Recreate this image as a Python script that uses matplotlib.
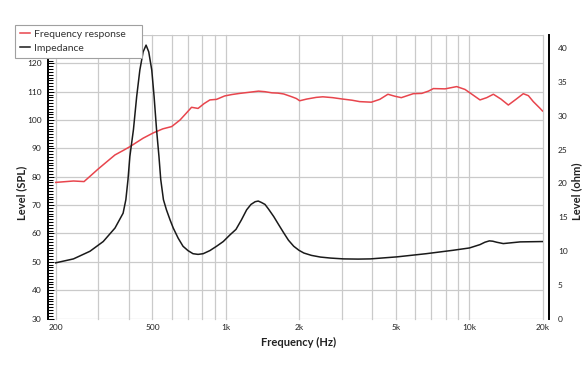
import numpy as np
import matplotlib
matplotlib.use('Agg')
import matplotlib.pyplot as plt
from matplotlib.ticker import FixedLocator, FixedFormatter, MultipleLocator, NullLocator, NullFormatter

plt.rcParams['font.family'] = ['Lato', 'DejaVu Sans']

# frequency response (SPL, dB)
spl_freq = [200, 237, 262, 280, 300, 325, 351, 378, 404, 430, 458, 505, 552, 600, 649,
            690, 724, 770, 815, 861, 917, 990, 1060, 1141, 1250, 1364, 1450, 1548, 1640,
            1730, 1870, 1950, 2013, 2150, 2355, 2505, 2750, 3024, 3300, 3551, 3963, 4293,
            4637, 4950, 5263, 5892, 6383, 6800, 7127, 7958, 8885, 9610, 10300,
            11075, 11800, 12567, 13500, 14478, 15500, 16680, 17500, 18335, 19557, 20000]
spl = [78.0, 78.5, 78.3, 80.5, 82.8, 85.3, 87.7, 89.2, 90.6, 92.1, 93.6, 95.5, 96.9, 97.7, 100.0,
       102.5, 104.5, 104.1, 105.8, 107.1, 107.3, 108.5, 109.0, 109.4, 109.8, 110.2, 110.0, 109.6, 109.5,
       109.2, 108.2, 107.6, 106.8, 107.4, 108.0, 108.2, 107.9, 107.4, 107.0, 106.5, 106.3, 107.3,
       109.1, 108.4, 107.9, 109.3, 109.4, 110.2, 111.1, 111.0, 111.8, 110.8, 109.0,
       107.1, 107.9, 109.1, 107.4, 105.3, 107.2, 109.3, 108.6, 106.5, 104.1, 103.2]

# impedance (ohm)
imp_freq = [200, 237, 277, 314, 351, 379, 389, 397, 404, 418, 431, 444, 458, 471, 483,
            497, 508, 520, 532, 541, 555, 571, 591, 609, 638, 668, 700, 734, 770, 808,
            861, 917, 977, 1042, 1102, 1160, 1219, 1270, 1321, 1360, 1400, 1450, 1500,
            1575, 1650, 1730, 1810, 1903, 2000, 2094, 2250, 2450, 2700, 3047, 3500,
            3927, 5050, 6656, 8560, 10023, 11080, 11600, 12100, 12500, 12960, 13800,
            16200, 20000]
imp = [8.24, 8.83, 9.96, 11.4, 13.4, 15.6, 17.6, 20.6, 24.0, 28.0, 32.9, 36.8, 39.5, 40.5, 39.5,
       36.8, 32.9, 28.0, 24.0, 20.6, 17.6, 16.1, 14.6, 13.4, 11.9, 10.7, 10.06, 9.6, 9.5, 9.6,
       10.06, 10.7, 11.4, 12.4, 13.2, 14.6, 16.1, 16.9, 17.3, 17.4, 17.2, 16.9, 16.2,
       15.1, 13.9, 12.7, 11.6, 10.7, 10.1, 9.7, 9.35, 9.1, 8.95, 8.83, 8.8,
       8.83, 9.13, 9.6, 10.1, 10.45, 10.95, 11.3, 11.5, 11.45, 11.3, 11.1,
       11.35, 11.4]

xticks = [200, 500, 1000, 2000, 5000, 10000, 20000]
xticklabels = ['200', '500', '1k', '2k', '5k', '10k', '20k']
xgrid = [200, 300, 400, 500, 600, 700, 800, 900, 1000, 2000, 3000, 4000, 5000,
         6000, 7000, 8000, 9000, 10000, 20000]

fig = plt.figure(figsize=(5.88, 3.72), dpi=100)
ax = fig.add_axes([55.5 / 588, 53.5 / 372, 487 / 588, 283.5 / 372])
ax2 = ax.twinx()

l1, = ax.plot(spl_freq, spl, color='#e8454d', lw=1.1, label='Frequency response')
l2, = ax2.plot(imp_freq, imp, color='#1a1a1a', lw=1.1, label='Impedance')

ax.set_xscale('log')
ax.set_xlim(200, 20000)
ax.set_ylim(30, 130)
ax2.set_ylim(0, 42)

ax.xaxis.remove_overlapping_locs = False
ax.xaxis.set_major_locator(FixedLocator(xticks))
ax.xaxis.set_major_formatter(FixedFormatter(xticklabels))
ax.xaxis.set_minor_locator(FixedLocator(xgrid))
ax.xaxis.set_minor_formatter(NullFormatter())
ax.tick_params(axis='x', which='both', length=0, pad=4, labelsize=6, labelcolor='#222')
ax.grid(True, which='minor', axis='x', color='#cacaca', lw=0.9)
for t in ax.xaxis.get_minor_ticks():
    t.gridline.set_clip_on(False)
ax.set_yticks(np.arange(30, 121, 10))
ax.yaxis.set_minor_locator(MultipleLocator(1))
ax.grid(True, which='major', axis='y', color='#cacaca', lw=0.9)
ax.axhline(130, color='#cacaca', lw=0.9)
ax.tick_params(axis='y', which='major', direction='in', length=4, width=0.75, pad=4.5,
               labelsize=6, labelcolor='#222')
ax.tick_params(axis='y', which='minor', direction='in', length=3.5, width=0.75)

ax2.set_yticks(np.arange(0, 41, 5))
ax2.yaxis.set_minor_locator(NullLocator())
ax2.tick_params(axis='y', length=0, pad=6, labelsize=6, labelcolor='#222')

for s in ['top', 'bottom', 'right']:
    ax.spines[s].set_visible(False)
for s in ['top', 'bottom', 'left']:
    ax2.spines[s].set_visible(False)
ax.spines['left'].set_position(('outward', 5.4))
ax.spines['left'].set_linewidth(1.4)
ax2.spines['right'].set_position(('outward', 5))
ax2.spines['right'].set_linewidth(1.4)

ax.set_xlabel('Frequency (Hz)', fontsize=8, fontweight='bold', color='#222')
ax.xaxis.set_label_coords(0.5, -0.083)
ax.xaxis.label.set_va('center')
ax.set_ylabel('Level (SPL)', fontsize=8, fontweight='bold', color='#222')
ax.yaxis.set_label_coords(-0.069, 0.443)
ax.yaxis.label.set_va('center')
ax2.set_ylabel('Level (ohm)', fontsize=8, fontweight='bold', color='#222', rotation=90)
ax2.yaxis.set_label_coords(1.071, 0.45)
ax2.yaxis.label.set_va('center')

leg = fig.legend(handles=[l1, l2], loc='upper left',
                 bbox_to_anchor=(15 / 588, 1 - 58 / 372, 127 / 588, 33 / 372),
                 bbox_transform=fig.transFigure, mode='expand', borderaxespad=0,
                 fontsize=7.5, handlelength=1.0, handletextpad=0.4, borderpad=0.45,
                 labelspacing=0.45, fancybox=False, framealpha=1)
leg.get_frame().set_edgecolor('#a0a0a0')
leg.get_frame().set_linewidth(0.8)
for t in leg.get_texts():
    t.set_color('#333')

fig.savefig('out.png', dpi=100)
